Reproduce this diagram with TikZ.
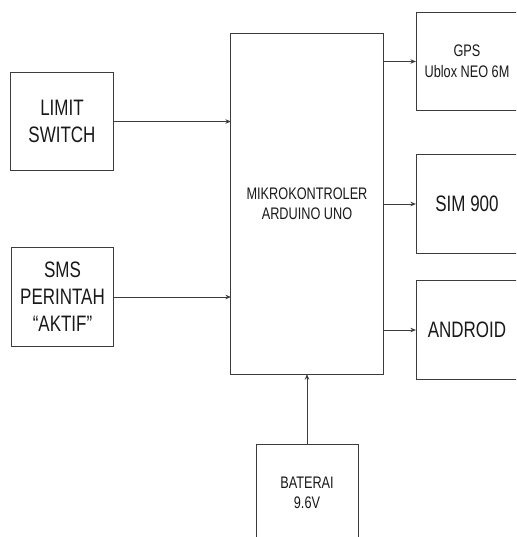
\documentclass[tikz,border=0pt]{standalone}
\usepackage{fontspec}
\setmainfont[FakeStretch=0.76]{Liberation Sans}
\usetikzlibrary{arrows.meta}
\definecolor{linegray}{RGB}{60,60,60}
\definecolor{textgray}{RGB}{25,25,25}
\tikzset{
  blockbig/.style={rectangle, draw=linegray, line width=0.7pt, text=textgray,
                   minimum width=2.55cm, minimum height=2.45cm, inner sep=0pt,
                   outer sep=0pt, align=center, font=\fontsize{15.9}{19.2}\selectfont},
  blocksmall/.style={blockbig, font=\fontsize{11.9}{14.6}\selectfont},
  mcubox/.style={blocksmall, minimum width=3.8cm, minimum height=8.5cm,
                 font=\fontsize{11.9}{14}\selectfont},
  signal/.style={draw=linegray, line width=0.7pt, -{Stealth[length=4pt,width=3.2pt]}}
}
\begin{document}
\begin{tikzpicture}[x=0.025cm, y=-0.025cm]
  \useasboundingbox (0,0) rectangle (516,537);
  \clip (0,0) rectangle (516,537);

  % inputs
  \node[blockbig] (limit) at (62, 121.5) {LIMIT\\SWITCH};
  \node[blockbig] (sms) at (62.5, 297) {SMS\\PERINTAH\\“AKTIF”};

  % controller
  \node[mcubox] (mcu) at (307, 204) {MIKROKONTROLER\\ARDUINO UNO};

  % outputs
  \node[blocksmall] (gps) at (467, 61.5) {GPS\\Ublox NEO 6M};
  \node[blockbig] (sim) at (467, 204) {SIM 900};
  \node[blockbig] (android) at (467, 330) {ANDROID};

  % supply
  \node[blocksmall] (baterai) at (307, 493) {BATERAI\\9.6V};

  \draw[signal] (limit.east) -- (limit.east -| mcu.west);
  \draw[signal] (sms.east) -- (sms.east -| mcu.west);
  \draw[signal] (gps.west -| mcu.east) -- (gps.west);
  \draw[signal] (sim.west -| mcu.east) -- (sim.west);
  \draw[signal] (android.west -| mcu.east) -- (android.west);
  \draw[signal] (baterai.north) -- (mcu.south);
\end{tikzpicture}
\end{document}
